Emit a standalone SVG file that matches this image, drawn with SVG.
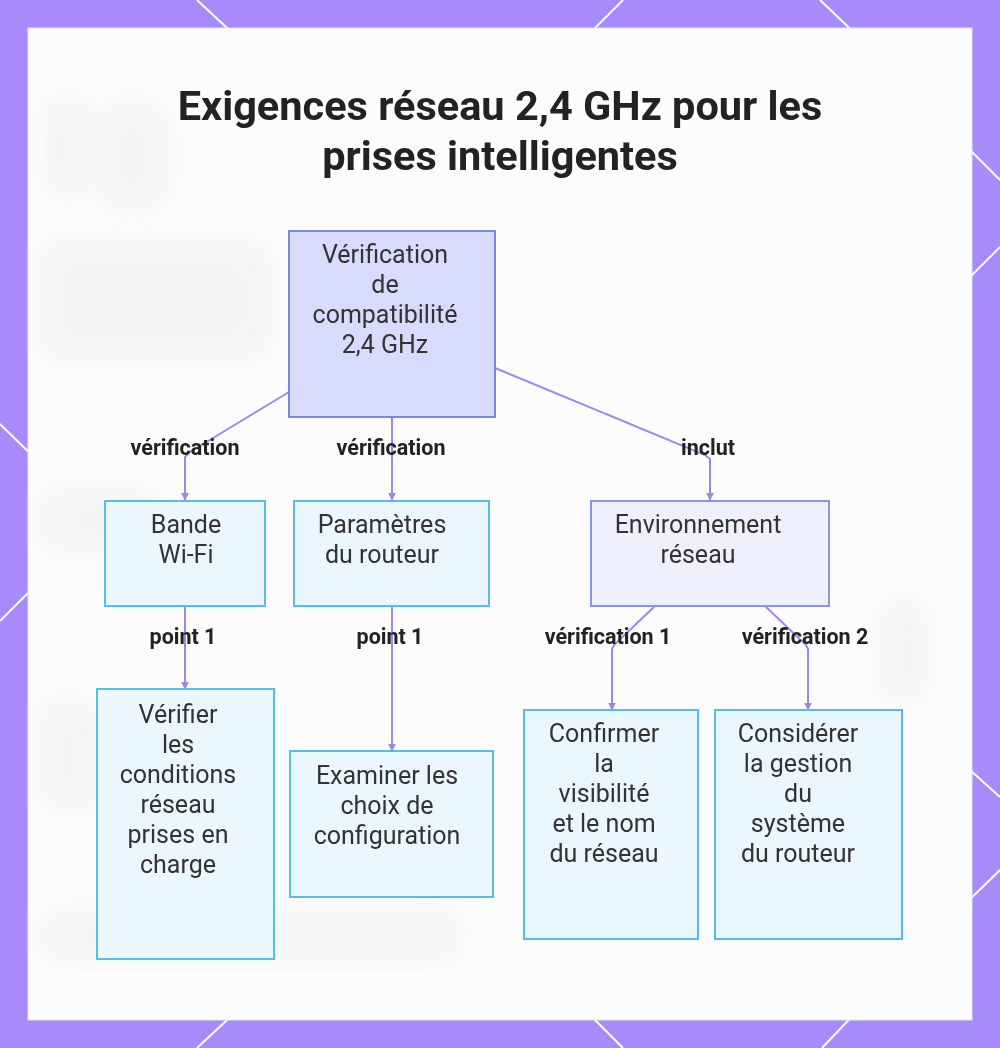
<svg xmlns="http://www.w3.org/2000/svg" width="1000" height="1048" viewBox="0 0 1000 1048">
<defs>
<style>
.bgline{stroke:#ffffff;stroke-width:2;fill:none}
.title{font-family:Roboto,"Liberation Sans",sans-serif;font-weight:700;font-size:41.5px;fill:#222222;text-anchor:middle}
.nt{font-family:Roboto,"Liberation Sans",sans-serif;font-size:25px;fill:#333333;text-anchor:middle}
.el{font-family:Roboto,"Liberation Sans",sans-serif;font-weight:700;font-size:21.5px;fill:#222222;text-anchor:middle}
.root{fill:#d9dbfc;stroke:#7b86dd;stroke-width:2}
.mid{fill:#eef0fd;stroke:#8a95e4;stroke-width:2}
.leaf{fill:#ebf7fe;stroke:#55bfe3;stroke-width:2}
.edge{fill:none;stroke:#a385e8;stroke-width:2;marker-end:url(#arr)}
.blob{fill:#e9e9e9;filter:url(#blur)}
</style>
<marker id="arr" viewBox="0 0 10 10" refX="9" refY="5" markerWidth="4" markerHeight="4" orient="auto-start-reverse" markerUnits="strokeWidth">
<path d="M0,0 L10,5 L0,10 z" fill="#a385e8"/>
</marker>
<filter id="blur" x="-30%" y="-30%" width="160%" height="160%"><feGaussianBlur stdDeviation="12"/></filter>
</defs>

<rect x="0" y="0" width="1000" height="1048" fill="#a78bfa"/>
<g id="bg-lines">
<line class="bgline" x1="197" y1="0" x2="240" y2="40"/>
<line class="bgline" x1="623" y1="0" x2="583" y2="40"/>
<line class="bgline" x1="820" y1="0" x2="862" y2="40"/>
<line class="bgline" x1="960" y1="140" x2="1000" y2="180"/>
<line class="bgline" x1="960" y1="287" x2="1000" y2="247"/>
<line class="bgline" x1="960" y1="761" x2="1000" y2="797"/>
<line class="bgline" x1="960" y1="909" x2="1000" y2="870"/>
<line class="bgline" x1="240" y1="1008" x2="197" y2="1048"/>
<line class="bgline" x1="583" y1="1008" x2="623" y2="1048"/>
<line class="bgline" x1="860" y1="1008" x2="822" y2="1048"/>
<line class="bgline" x1="0" y1="424" x2="40" y2="463"/>
<line class="bgline" x1="0" y1="621" x2="40" y2="581"/>
</g>
<rect x="28" y="28" width="944" height="992" fill="#fcfcfc" stroke="#ece6fb" stroke-width="1"/>

<g id="bg-blur" opacity="0.35">
<rect class="blob" x="45" y="100" width="45" height="95" rx="15"/>
<rect class="blob" x="95" y="100" width="75" height="110" rx="35"/>
<rect class="blob" x="40" y="240" width="230" height="120" rx="30"/>
<rect class="blob" x="40" y="490" width="120" height="60" rx="25"/>
<rect class="blob" x="40" y="700" width="60" height="110" rx="25"/>
<rect class="blob" x="40" y="910" width="420" height="50" rx="25"/>
<rect class="blob" x="880" y="600" width="45" height="100" rx="20"/>
</g>

<g id="title">
<text class="title" x="500" y="120">Exigences réseau 2,4 GHz pour les</text>
<text class="title" x="500" y="170">prises intelligentes</text>
</g>

<g id="connectors">
<path class="edge" d="M289,392 L190,452 L185,457 L185,500"/>
<path class="edge" d="M392,417 L392,500"/>
<path class="edge" d="M495,368 L705,455 L710,459 L710,500"/>
<path class="edge" d="M185,606 L185,689"/>
<path class="edge" d="M392,606 L392,751"/>
<path class="edge" d="M655,606 L614,645 L612,649 L612,710"/>
<path class="edge" d="M765,606 L806,645 L808,649 L808,710"/>
<text class="el" x="185" y="455">vérification</text>
<text class="el" x="391" y="455">vérification</text>
<text class="el" x="708" y="455">inclut</text>
<text class="el" x="183" y="644">point 1</text>
<text class="el" x="390" y="644">point 1</text>
<text class="el" x="608" y="644">vérification 1</text>
<text class="el" x="805" y="644">vérification 2</text>
</g>

<g id="node-root">
<rect class="root" x="289" y="231" width="206" height="186"/>
<text class="nt" x="385" y="263">Vérification</text>
<text class="nt" x="385" y="293">de</text>
<text class="nt" x="385" y="323">compatibilité</text>
<text class="nt" x="385" y="353">2,4 GHz</text>
</g>

<g id="node-bande">
<rect class="leaf" x="105" y="501" width="160" height="105"/>
<text class="nt" x="186" y="533">Bande</text>
<text class="nt" x="186" y="563">Wi-Fi</text>
</g>

<g id="node-parametres">
<rect class="leaf" x="294" y="501" width="195" height="105"/>
<text class="nt" x="382" y="533">Paramètres</text>
<text class="nt" x="382" y="563">du routeur</text>
</g>

<g id="node-environnement">
<rect class="mid" x="591" y="501" width="238" height="105"/>
<text class="nt" x="698" y="533">Environnement</text>
<text class="nt" x="698" y="563">réseau</text>
</g>

<g id="node-verifier">
<rect class="leaf" x="97" y="689" width="177" height="270"/>
<text class="nt" x="178" y="723">Vérifier</text>
<text class="nt" x="178" y="753">les</text>
<text class="nt" x="178" y="783">conditions</text>
<text class="nt" x="178" y="813">réseau</text>
<text class="nt" x="178" y="843">prises en</text>
<text class="nt" x="178" y="873">charge</text>
</g>

<g id="node-examiner">
<rect class="leaf" x="290" y="751" width="203" height="146"/>
<text class="nt" x="387" y="784">Examiner les</text>
<text class="nt" x="387" y="814">choix de</text>
<text class="nt" x="387" y="844">configuration</text>
</g>

<g id="node-confirmer">
<rect class="leaf" x="524" y="710" width="174" height="229"/>
<text class="nt" x="604" y="742">Confirmer</text>
<text class="nt" x="604" y="772">la</text>
<text class="nt" x="604" y="802">visibilité</text>
<text class="nt" x="604" y="832">et le nom</text>
<text class="nt" x="604" y="862">du réseau</text>
</g>

<g id="node-considerer">
<rect class="leaf" x="715" y="710" width="187" height="229"/>
<text class="nt" x="798" y="742">Considérer</text>
<text class="nt" x="798" y="772">la gestion</text>
<text class="nt" x="798" y="802">du</text>
<text class="nt" x="798" y="832">système</text>
<text class="nt" x="798" y="862">du routeur</text>
</g>
</svg>
